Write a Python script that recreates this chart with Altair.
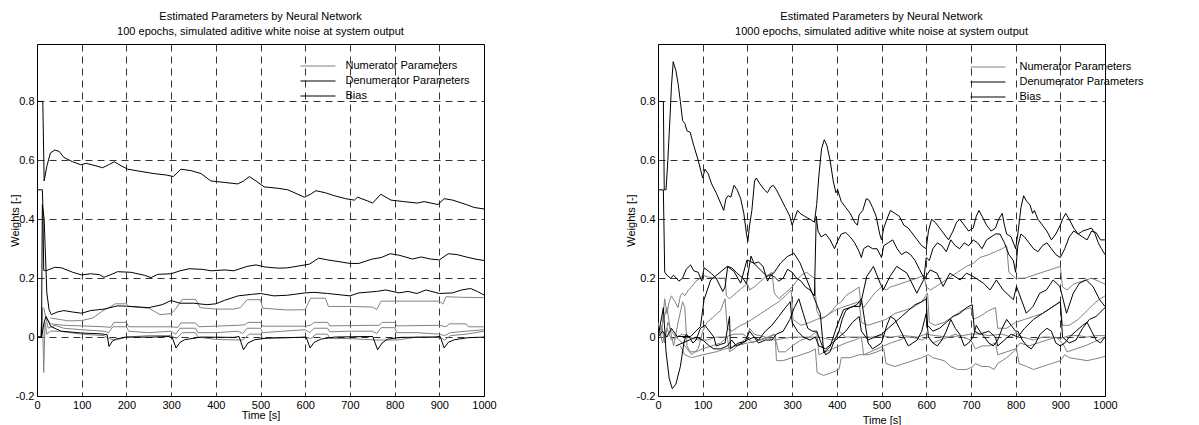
import altair as alt
import pandas as pd

# ---------------- text ----------------
TITLE_L = ["Estimated Parameters by Neural Network",
           "100 epochs, simulated aditive white noise at system output"]
TITLE_R = ["Estimated Parameters by Neural Network",
           "1000 epochs, simulated aditive white noise at system output"]
GROUPS = ["Numerator Parameters", "Denumerator Parameters", "Bias"]
X_TICKS = [0, 100, 200, 300, 400, 500, 600, 700, 800, 900, 1000]
Y_TICKS = [-0.2, 0, 0.2, 0.4, 0.6, 0.8]

# ---------------- left panel (100 epochs) : (time, weight) ----------------
LA = [(0,0.80),(12,0.80),(13,0.80),(16,0.53),(22,0.58),(30,0.625),(40,0.635),(50,0.63),(60,0.61),(80,0.595),
      (98,0.585),(110,0.59),(130,0.582),(147,0.575),(160,0.585),(173,0.595),(190,0.58),(203,0.57),(230,0.563),(262,0.555),
      (290,0.55),(305,0.545),(322,0.57),(345,0.565),(367,0.555),(389,0.53),(420,0.525),(449,0.52),(462,0.53),(475,0.545),
      (490,0.53),(508,0.51),(540,0.505),(561,0.50),(598,0.475),(612,0.485),(624,0.497),(645,0.49),(665,0.48),(690,0.47),
      (710,0.465),(717,0.475),(740,0.462),(751,0.455),(769,0.485),(792,0.465),(820,0.46),(851,0.455),(866,0.46),(897,0.45),
      (911,0.47),(930,0.465),(960,0.45),(978,0.44),(1000,0.435)]
LB = [(0,0.5),(12,0.5),(13,0.45),(15,0.227),(20,0.225),(40,0.237),(55,0.235),(80,0.22),(100,0.211),(120,0.215),
      (140,0.212),(150,0.203),(170,0.215),(180,0.222),(210,0.22),(240,0.21),(255,0.202),(270,0.213),(300,0.215),(320,0.225),
      (340,0.232),(370,0.23),(390,0.225),(420,0.228),(440,0.225),(470,0.24),(490,0.245),(510,0.238),(540,0.234),(560,0.235),
      (600,0.245),(610,0.248),(630,0.268),(650,0.262),(680,0.255),(700,0.25),(720,0.25),(750,0.265),(770,0.27),(790,0.283),
      (810,0.278),(840,0.265),(860,0.272),(880,0.265),(900,0.262),(920,0.283),(940,0.28),(960,0.272),(980,0.265),(1000,0.26)]
LC = [(0,0),(10,0),(12,0.45),(16,0.4),(22,0.15),(27,0.093),(32,0.076),(45,0.085),(60,0.09),(80,0.085),
      (100,0.081),(120,0.09),(150,0.095),(180,0.106),(200,0.105),(250,0.1),(280,0.11),(300,0.124),(320,0.115),(350,0.115),
      (380,0.11),(400,0.113),(420,0.125),(450,0.14),(480,0.145),(500,0.148),(530,0.14),(560,0.142),(600,0.15),(620,0.152),
      (650,0.148),(700,0.14),(720,0.15),(760,0.155),(780,0.16),(810,0.15),(830,0.155),(850,0.148),(870,0.16),(900,0.148),
      (930,0.15),(950,0.16),(970,0.165),(985,0.155),(1000,0.143)]
LD = [(0,0),(10,0),(16,0.05),(20,0.07),(31,0.036),(54,0.02),(98,0.014),(143,0.011),(157,0.008),(161,-0.032),
      (168,-0.015),(176,-0.007),(199,0),(255,0),(296,0.002),(303,-0.003),(311,-0.037),(320,-0.018),(330,-0.009),(367,0),
      (441,-0.001),(452,0.002),(462,-0.043),(472,-0.02),(487,-0.009),(516,-0.003),(591,-0.001),(602,0),(611,-0.037),(620,-0.018),
      (635,-0.007),(665,0),(740,0.002),(751,0.002),(762,-0.043),(772,-0.02),(784,-0.007),(814,-0.001),(889,0),(902,0.002),
      (911,-0.037),(920,-0.018),(934,-0.009),(964,-0.002),(1000,0)]
LE = [(30,0.065),(70,0.055),(100,0.056),(125,0.065),(145,0.087),(165,0.104),(175,0.113),(200,0.113),(205,0.104),(250,0.098),
      (260,0.09),(275,0.076),(300,0.08),(310,0.095),(325,0.128),(355,0.128),(365,0.1),(400,0.095),(440,0.095),(455,0.1),
      (470,0.127),(500,0.127),(505,0.098),(560,0.092),(600,0.093),(612,0.132),(645,0.132),(652,0.104),(700,0.104),(750,0.102),
      (760,0.094),(770,0.122),(900,0.122),(908,0.112),(915,0.137),(950,0.135),(1000,0.134)]
LF = [(20,0.07),(30,0.045),(60,0.04),(100,0.038),(150,0.035),(165,0.033),(172,0.05),(200,0.05),(205,0.035),(300,0.035),
      (315,0.033),(322,0.048),(355,0.048),(362,0.035),(450,0.04),(465,0.042),(472,0.05),(500,0.05),(505,0.037),(600,0.037),
      (612,0.04),(620,0.05),(650,0.05),(655,0.038),(750,0.04),(765,0.04),(772,0.05),(800,0.05),(805,0.038),(900,0.04),
      (915,0.035),(922,0.045),(960,0.045),(965,0.035),(1000,0.035)]
LG = [(15,0.1),(25,0.03),(40,0.04),(60,0.03),(100,0.025),(150,0.02),(160,0.015),(170,0.035),(200,0.035),(205,0.02),
      (250,0.015),(300,0.02),(310,0.01),(320,0.03),(355,0.03),(360,0.015),(400,0.015),(450,0.02),(460,0.012),(470,0.03),
      (500,0.03),(505,0.015),(550,0.02),(600,0.025),(610,0.015),(620,0.03),(650,0.03),(655,0.018),(700,0.02),(750,0.02),
      (760,0.012),(770,0.032),(800,0.032),(805,0.015),(850,0.015),(900,0.01),(912,0.005),(925,0.015),(960,0.02),(1000,0.025)]
LH = [(0,0),(8,0),(12,0.1),(15,-0.12),(18,0.05),(22,0.01),(30,0.02),(50,0.02),(100,0.01),(150,0.005),
      (160,-0.005),(175,-0.01),(200,0.0),(250,0.005),(300,0.005),(312,-0.005),(325,0.015),(355,0.015),(360,0.0),(400,-0.008),
      (460,-0.01),(475,0.01),(500,0.01),(505,-0.005),(600,0.0),(612,-0.005),(625,0.01),(650,0.01),(655,-0.005),(700,-0.005),
      (760,-0.01),(775,-0.01),(800,-0.01),(805,-0.01),(850,0.0),(900,0.0),(912,-0.01),(925,0.005),(960,0.01),(1000,0.02)]

# ---------------- right panel (1000 epochs) : (time, weight) ----------------
R1 = [(0,0.8),(12,0.8),(14,0.5),(18,0.5),(22,0.6),(27,0.75),(30,0.85),(34,0.935),(40,0.905),(45,0.86),
      (50,0.8),(55,0.735),(60,0.725),(65,0.7),(72,0.695),(80,0.65),(90,0.6),(100,0.54),(105,0.57),(112,0.555),
      (120,0.52),(130,0.49),(140,0.455),(147,0.43),(152,0.47),(157,0.48),(163,0.475),(170,0.515),(177,0.5),(185,0.47),
      (192,0.42),(198,0.35),(201,0.325),(205,0.38),(210,0.43),(216,0.53),(220,0.54),(228,0.52),(238,0.5),(245,0.49),
      (252,0.51),(258,0.515),(265,0.5),(275,0.47),(285,0.44),(295,0.41),(300,0.38),(305,0.4),(312,0.43),(318,0.42),
      (328,0.41),(340,0.4),(350,0.39),(355,0.45),(360,0.55),(366,0.64),(372,0.67),(378,0.65),(385,0.6),(392,0.53),
      (398,0.49),(402,0.5),(410,0.46),(420,0.44),(430,0.42),(440,0.39),(446,0.38),(450,0.415),(458,0.43),(466,0.47),
      (472,0.465),(480,0.44),(488,0.41),(496,0.35),(500,0.33),(505,0.37),(512,0.4),(520,0.43),(530,0.42),(540,0.41),
      (550,0.38),(560,0.37),(570,0.35),(580,0.33),(590,0.31),(600,0.3),(605,0.36),(612,0.4),(620,0.39),(630,0.37),
      (640,0.35),(650,0.33),(660,0.36),(668,0.39),(675,0.4),(685,0.38),(695,0.36),(705,0.37),(712,0.41),(718,0.43),
      (725,0.41),(735,0.38),(745,0.36),(755,0.37),(762,0.40),(770,0.42),(775,0.38),(780,0.35),(790,0.34),(800,0.3),
      (805,0.35),(812,0.44),(818,0.48),(825,0.46),(832,0.45),(838,0.42),(842,0.43),(850,0.4),(860,0.38),(870,0.36),
      (880,0.33),(890,0.35),(900,0.38),(905,0.40),(912,0.42),(920,0.40),(930,0.37),(940,0.35),(950,0.36),(960,0.365),
      (970,0.37),(978,0.35),(985,0.32),(992,0.30),(1000,0.28)]
R2 = [(0,0.5),(12,0.5),(15,0.22),(20,0.21),(28,0.2),(35,0.21),(47,0.19),(55,0.2),(63,0.23),(73,0.245),
      (80,0.225),(90,0.22),(98,0.19),(103,0.235),(112,0.225),(120,0.215),(130,0.2),(140,0.17),(145,0.155),(150,0.17),
      (156,0.24),(165,0.235),(175,0.22),(182,0.21),(190,0.2),(198,0.18),(202,0.22),(208,0.275),(215,0.25),(225,0.255),
      (235,0.24),(245,0.19),(252,0.21),(260,0.205),(270,0.19),(280,0.2),(290,0.23),(300,0.22),(310,0.2),(320,0.19),
      (330,0.17),(340,0.16),(350,0.14),(354,0.41),(358,0.36),(365,0.34),(375,0.35),(385,0.33),(395,0.30),(400,0.32),
      (410,0.35),(420,0.355),(430,0.34),(440,0.32),(450,0.29),(455,0.27),(460,0.3),(470,0.31),(480,0.3),(490,0.3),
      (500,0.27),(505,0.31),(515,0.32),(525,0.33),(535,0.3),(545,0.28),(555,0.29),(565,0.28),(575,0.26),(585,0.23),
      (595,0.2),(600,0.27),(607,0.26),(615,0.3),(625,0.32),(635,0.31),(645,0.29),(655,0.33),(665,0.31),(675,0.3),
      (685,0.32),(695,0.31),(705,0.33),(715,0.32),(725,0.3),(735,0.33),(745,0.34),(755,0.35),(765,0.35),(775,0.32),
      (785,0.28),(795,0.26),(800,0.22),(805,0.31),(812,0.35),(820,0.34),(830,0.32),(840,0.3),(850,0.29),(860,0.31),
      (870,0.32),(880,0.3),(890,0.28),(900,0.27),(910,0.3),(920,0.34),(930,0.36),(940,0.35),(950,0.34),(960,0.33),
      (970,0.36),(980,0.355),(990,0.33),(1000,0.33)]
R3 = [(0,0.0),(10,0.02),(20,0.0),(30,0.03),(43,0.002),(73,0.002),(95,0.036),(103,0.127),(118,0.194),(155,0.24),
      (170,0.223),(185,0.183),(199,0.262),(214,0.251),(229,0.228),(244,0.206),(259,0.217),(274,0.251),(289,0.273),(304,0.285),
      (318,0.251),(333,0.194),(348,0.138),(363,0.081),(371,-0.054),(385,-0.032),(400,0.036),(415,0.093),(437,0.104),(452,0.104),
      (467,0.206),(482,0.24),(497,0.183),(504,0.16),(519,0.206),(534,0.24),(557,0.217),(579,0.149),(594,0.194),(609,0.228),
      (624,0.217),(638,0.172),(653,0.217),(676,0.194),(690,0.217),(705,0.206),(728,0.183),(743,0.16),(757,0.194),(772,0.16),
      (795,0.127),(802,0.172),(824,0.081),(839,0.104),(854,0.149),(869,0.16),(884,0.194),(899,0.172),(914,0.081),(929,0.149),
      (943,0.183),(958,0.194),(973,0.172),(988,0.127),(1000,0.104)]
R4 = [(0,0.0),(12,0.1),(18,-0.05),(25,-0.14),(32,-0.175),(40,-0.16),(50,-0.1),(58,-0.02),(63,0.01),(70,0.0),
      (78,-0.02),(85,-0.01),(95,0.03),(105,0.04),(115,0.02),(125,0.0),(130,-0.03),(140,-0.025),(150,-0.02),(160,0.07),
      (162,-0.04),(170,-0.03),(180,-0.02),(195,-0.015),(205,0.02),(215,0.0),(225,-0.02),(240,-0.01),(255,-0.01),(265,0.01),
      (280,0.02),(295,0.06),(305,0.1),(315,0.13),(325,0.08),(335,0.03),(345,0.02),(355,0.02),(365,-0.02),(375,-0.06),
      (385,-0.05),(395,-0.01),(405,0.02),(412,0.06),(420,0.09),(430,0.1),(445,0.11),(455,0.13),(462,0.06),(470,-0.02),
      (480,-0.04),(490,-0.03),(500,-0.02),(512,0.04),(520,0.07),(530,0.06),(540,0.03),(550,0.0),(560,-0.03),(570,-0.02),
      (580,-0.01),(590,0.02),(600,0.08),(605,0.0),(615,-0.02),(625,-0.03),(635,-0.01),(645,0.02),(655,0.06),(665,0.03),
      (675,0.01),(685,-0.03),(695,-0.02),(705,0.0),(712,0.04),(720,0.02),(730,0.0),(740,-0.02),(750,-0.03),(760,-0.01),
      (770,0.03),(780,0.06),(790,0.04),(800,0.02),(805,0.02),(815,-0.01),(825,-0.03),(835,-0.04),(845,-0.02),(855,0.01),
      (870,0.03),(880,0.02),(890,-0.02),(900,-0.03),(910,-0.02),(920,0.0),(935,0.02),(950,0.04),(960,0.05),(970,0.02),
      (980,-0.01),(990,-0.02),(1000,0.0)]
R5 = [(40,-0.03),(55,-0.02),(70,-0.01),(85,0.0),(100,-0.01),(115,-0.03),(125,-0.04),(140,-0.04),(155,-0.03),(165,-0.01),
      (175,-0.03),(190,-0.02),(200,-0.01),(215,0.0),(225,-0.01),(240,0.02),(255,0.04),(270,0.07),(285,0.1),(296,0.12),
      (300,0.05),(312,0.02),(325,0.0),(340,-0.01),(352,0.0),(360,-0.03),(375,-0.04),(390,-0.02),(405,0.0),(420,0.02),
      (435,0.05),(450,0.07),(455,0.02),(470,-0.01),(485,0.0),(500,0.01),(515,0.03),(530,0.05),(545,0.07),(560,0.09),
      (575,0.11),(590,0.12),(600,0.13),(603,0.04),(615,0.02),(630,0.03),(645,0.05),(660,0.07),(675,0.08),(690,0.1),
      (703,0.11),(708,0.02),(720,0.01),(740,0.02),(755,0.0),(760,-0.03),(775,-0.01),(790,0.01),(805,0.0),(820,0.03),
      (840,0.06),(860,0.08),(880,0.1),(900,0.12),(905,0.0),(920,-0.02),(935,-0.01),(950,0.03),(965,0.06),(980,0.07),
      (1000,0.1)]
RG1 = [(10,0.05),(15,0.13),(20,0.08),(25,0.12),(30,0.14),(38,0.12),(45,0.1),(50,0.14),(55,0.15),(60,0.14),
       (68,0.16),(75,0.17),(85,0.19),(95,0.2),(100,0.21),(110,0.205),(125,0.2),(140,0.2),(150,0.2),(153,0.14),
       (160,0.13),(175,0.15),(190,0.17),(200,0.18),(205,0.16),(215,0.17),(230,0.19),(245,0.21),(255,0.22),(260,0.15),
       (270,0.13),(285,0.15),(300,0.17),(310,0.19),(320,0.21),(333,0.22),(340,0.21),(350,0.2),(355,0.09),(365,0.06),
       (375,0.07),(390,0.09),(400,0.11),(410,0.12),(420,0.14),(440,0.16),(450,0.17),(453,0.12),(460,0.1),(470,0.12),
       (485,0.15),(500,0.17),(510,0.16),(520,0.17),(540,0.18),(560,0.19),(580,0.2),(595,0.21),(600,0.17),(610,0.16),
       (630,0.18),(650,0.2),(670,0.22),(690,0.24),(705,0.25),(720,0.27),(740,0.28),(755,0.29),(770,0.3),(780,0.31),
       (785,0.22),(800,0.2),(820,0.2),(840,0.21),(860,0.22),(880,0.23),(900,0.24),(905,0.17),(915,0.16),(930,0.18),
       (950,0.19),(970,0.2),(985,0.19),(1000,0.18)]
RG2 = [(5,0.0),(12,0.06),(20,0.1),(28,0.02),(35,-0.03),(45,0.05),(55,0.12),(60,0.1),(65,-0.03),(75,-0.06),
       (90,-0.04),(100,0.02),(110,0.05),(125,0.07),(140,0.09),(150,0.13),(155,0.03),(165,0.02),(185,0.04),(200,0.05),
       (210,0.06),(230,0.08),(250,0.1),(270,0.12),(285,0.14),(298,0.16),(302,0.06),(320,0.04),(340,0.05),(355,0.06),
       (375,0.07),(395,0.09),(410,0.1),(430,0.11),(450,0.12),(455,0.05),(470,0.04),(490,0.05),(510,0.06),(530,0.08),
       (550,0.09),(570,0.1),(590,0.12),(603,0.15),(607,0.05),(620,0.04),(640,0.05),(660,0.07),(680,0.09),(700,0.1),
       (705,0.06),(720,0.07),(740,0.09),(755,0.1),(760,0.03),(780,0.03),(800,0.05),(820,0.06),(840,0.07),(860,0.08),
       (880,0.1),(900,0.12),(905,0.04),(920,0.04),(940,0.06),(960,0.09),(980,0.12),(1000,0.14)]
RG3 = [(0,0.05),(10,-0.02),(20,0.03),(30,-0.01),(40,0.0),(55,-0.02),(70,-0.05),(85,-0.05),(100,-0.04),(120,-0.03),
       (140,-0.02),(155,0.0),(160,-0.05),(170,-0.04),(185,-0.02),(200,0.0),(210,-0.02),(225,-0.01),(245,0.0),(260,0.01),
       (270,-0.05),(285,-0.05),(300,-0.03),(320,-0.01),(340,0.0),(355,0.02),(360,-0.06),(375,-0.05),(390,-0.04),(405,-0.03),
       (420,-0.02),(440,-0.01),(455,0.0),(460,-0.06),(475,-0.05),(490,-0.04),(505,-0.03),(520,-0.02),(540,-0.01),(555,0.0),
       (570,0.0),(590,-0.01),(605,0.0),(615,-0.02),(630,-0.01),(650,0.0),(665,0.01),(680,0.0),(700,-0.01),(710,-0.04),
       (725,-0.03),(740,-0.03),(755,-0.02),(760,-0.06),(780,-0.05),(800,-0.04),(810,-0.02),(830,-0.03),(850,-0.02),(870,-0.01),
       (890,0.0),(905,-0.02),(915,-0.05),(935,-0.04),(955,-0.03),(970,-0.02),(985,-0.01),(1000,0.0)]
RG4 = [(50,-0.03),(60,-0.06),(75,-0.07),(100,-0.06),(130,-0.05),(150,-0.04),(175,-0.03),(200,-0.02),(230,-0.01),(250,0.0),
       (262,0.01),(265,-0.08),(280,-0.08),(300,-0.07),(320,-0.06),(340,-0.05),(352,-0.04),(356,-0.12),(370,-0.13),(390,-0.12),
       (405,-0.11),(410,-0.07),(430,-0.07),(450,-0.06),(470,-0.06),(490,-0.05),(505,-0.04),(510,-0.09),(530,-0.1),(550,-0.09),
       (570,-0.08),(590,-0.07),(605,-0.06),(615,-0.07),(640,-0.08),(655,-0.1),(670,-0.11),(690,-0.11),(705,-0.1),(710,-0.09),
       (725,-0.1),(740,-0.1),(752,-0.11),(760,-0.09),(780,-0.07),(795,-0.05),(802,-0.04),(808,-0.09),(825,-0.1),(840,-0.11),
       (860,-0.1),(880,-0.09),(900,-0.08),(910,-0.06),(920,-0.07),(940,-0.075),(960,-0.08),(975,-0.075),(990,-0.07),(1000,-0.065)]
RG5 = [(0,0.0),(8,0.04),(15,-0.02),(22,0.05),(30,0.02),(40,0.0),(55,0.01),(70,0.0),(90,-0.01),(110,-0.01),
       (130,0.0),(150,0.0),(170,0.01),(190,0.01),(200,0.0),(205,0.03),(215,0.01),(240,0.0),(260,-0.01),(280,-0.005),
       (300,0.0),(330,0.0),(360,0.0),(390,-0.01),(400,0.0),(405,0.02),(420,0.0),(450,0.0),(480,0.0),(500,0.005),
       (520,0.0),(550,0.005),(580,0.0),(600,0.01),(620,0.005),(650,0.0),(680,0.005),(700,0.01),(720,0.01),(740,0.005),
       (770,0.01),(790,0.0),(800,0.015),(815,0.0),(840,-0.01),(860,0.0),(880,0.0),(900,-0.005),(920,0.005),(940,0.005),
       (960,0.0),(980,0.005),(1000,0.005)]

LEFT_SERIES = [("LE", GROUPS[0], LE), ("LF", GROUPS[0], LF), ("LG", GROUPS[0], LG), ("LH", GROUPS[0], LH),
               ("LA", GROUPS[1], LA), ("LB", GROUPS[1], LB), ("LC", GROUPS[1], LC), ("LD", GROUPS[2], LD)]
RIGHT_SERIES = [("RG1", GROUPS[0], RG1), ("RG2", GROUPS[0], RG2), ("RG3", GROUPS[0], RG3), ("RG4", GROUPS[0], RG4),
                ("RG5", GROUPS[0], RG5), ("R1", GROUPS[1], R1), ("R2", GROUPS[1], R2), ("R3", GROUPS[1], R3),
                ("R5", GROUPS[1], R5), ("R4", GROUPS[2], R4)]


def frame(series):
    rows = []
    for k, (name, group, pts) in enumerate(series):
        for i, (t, v) in enumerate(pts):
            rows.append({"series": f"{k:02d}{name}", "group": group, "t": t, "v": v, "i": i})
    return pd.DataFrame(rows)


FONT = "Liberation Sans"
YLABEL = "datum.value < 0 ? '-' + format(-datum.value, '.1~f') : format(datum.value, '.1~f')"
LEGEND_LINE = "M-3.5,0L3.5,0"   # a 35 px wide stroke at symbolSize 100


def panel(df, title, legend_x, legend_y, label_offset, ytitle_x, xtitle_y):
    return alt.Chart(df).mark_line(strokeWidth=1, clip=True).encode(
        x=alt.X("t:Q", scale=alt.Scale(domain=[0, 1000], nice=False, zero=False),
                axis=alt.Axis(values=X_TICKS, format="d", title="Time [s]", labelFlush=False,
                              titleY=xtitle_y, titleBaseline="middle")),
        y=alt.Y("v:Q", scale=alt.Scale(domain=[-0.2, 0.995], nice=False, zero=False),
                axis=alt.Axis(values=Y_TICKS, labelExpr=YLABEL, title="Weights [-]", labelFlush=False,
                              titleX=ytitle_x, titleBaseline="middle")),
        color=alt.Color("group:N",
                        scale=alt.Scale(domain=GROUPS, range=["#828282", "#000000", "#000000"]),
                        legend=alt.Legend(orient="none", legendX=legend_x, legendY=legend_y, title=None,
                                          symbolType=LEGEND_LINE, symbolSize=100, symbolStrokeWidth=1,
                                          labelFont=FONT, labelFontSize=11, labelColor="#000",
                                          labelOffset=label_offset, rowPadding=3, padding=0)),
        detail="series:N",
        order="i:Q",
    ).properties(width=447, height=352,
                 title=alt.TitleParams(text=title, fontSize=11, font=FONT, fontWeight="normal",
                                       color="#000", anchor="middle", offset=7, lineHeight=15))


left = panel(frame(LEFT_SERIES), TITLE_L, 275.5, 16.5, 22, -22, 19)
right = panel(frame(RIGHT_SERIES), TITLE_R, 324.5, 17.5, 26, -27, 24)

chart = alt.hconcat(left, right, spacing=127).resolve_scale(
    color="independent").resolve_legend(color="independent").properties(
    padding={"left": 0, "top": 2, "right": 0, "bottom": 0}
).configure_view(stroke="#000", strokeWidth=1).configure_axis(
    grid=True, gridColor="#000", gridDash=[7, 5], gridWidth=0.8, gridOpacity=1,
    domain=False, ticks=False, labelFont=FONT, labelFontSize=11, labelColor="#000",
    labelPadding=3, titleFont=FONT, titleFontSize=11, titleFontWeight="normal", titleColor="#000"
)

chart.save("out.html", embed_options={"renderer": "svg", "actions": False})
